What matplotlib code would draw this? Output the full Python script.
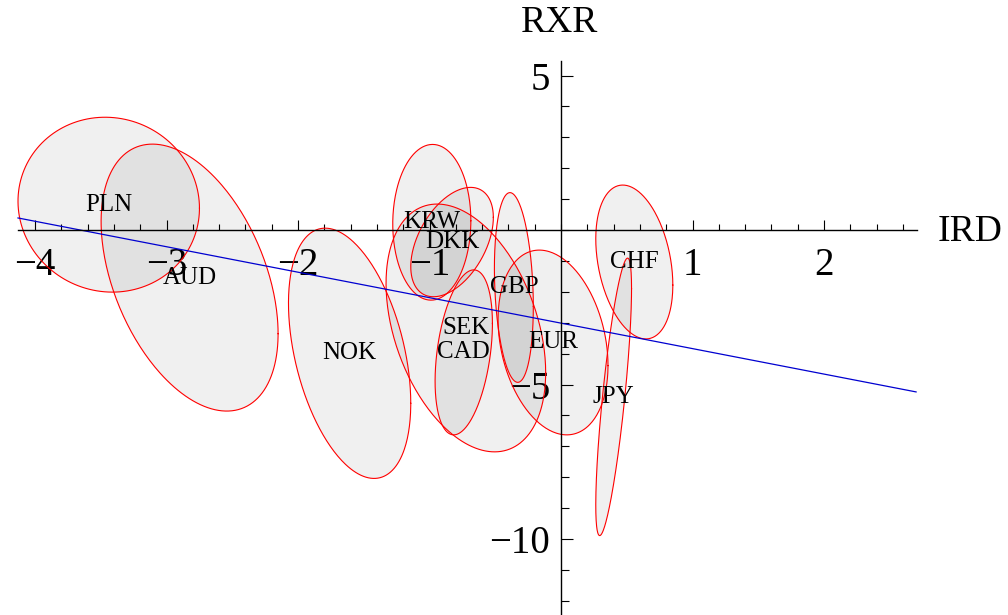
import numpy as np
import matplotlib.pyplot as plt
from matplotlib.ticker import MultipleLocator, FixedLocator

# currency ellipses: centre, half extent in x / y, and tilt (correlation)
names = ["PLN", "AUD", "NOK", "KRW", "DKK", "SEK", "CAD", "GBP", "EUR", "CHF", "JPY"]
cx = [-3.44, -2.825, -1.608, -0.983, -0.829, -0.724, -0.74, -0.359, -0.061, 0.557, 0.40]
cy = [0.82, -1.54, -3.99, 0.25, -0.39, -3.17, -3.96, -1.86, -3.64, -1.035, -5.40]
half_x = [0.69, 0.673, 0.465, 0.297, 0.314, 0.607, 0.218, 0.148, 0.418, 0.293, 0.136]
half_y = [2.83, 4.32, 4.05, 2.52, 1.77, 4.01, 2.67, 3.07, 2.99, 2.49, 4.49]
rho = [-0.04, -0.42, -0.40, 0.02, 0.45, -0.36, 0.35, -0.2, -0.25, -0.3, 0.78]

# fitted line endpoints
line_x = [-4.13, 2.70]
line_y = [0.39, -5.24]

x_major = [-4, -3, -2, -1, 1, 2]
y_major = [-10, -5, 5]

serif = "Liberation Serif"

fig = plt.figure(figsize=(10.08, 6.15), dpi=100)
ax = fig.add_axes([18 / 1008, 0.0, (917.4 - 18) / 1008, (615 - 61) / 615])
ax.set_xlim(-4.13, 2.71)
ax.set_ylim(-12.46, 5.47)

t = np.linspace(0, 2 * np.pi, 300)
for i, name in enumerate(names):
    ex = cx[i] + half_x[i] * np.cos(t)
    ey = cy[i] + half_y[i] * (rho[i] * np.cos(t) + np.sqrt(1 - rho[i] ** 2) * np.sin(t))
    ax.fill(ex, ey, facecolor="black", alpha=0.06, edgecolor="none", clip_on=False)
    ax.plot(ex, ey, color="#ff0000", lw=0.8, clip_on=False)

ax.plot(line_x, line_y, color="#0000d0", lw=0.9, clip_on=False)

for i, name in enumerate(names):
    ax.text(cx[i], cy[i], name, ha="center", va="center", fontsize=18,
            family=serif, zorder=5)

for s in ["top", "right"]:
    ax.spines[s].set_visible(False)
ax.spines["left"].set_position(("data", 0))
ax.spines["bottom"].set_position(("data", 0))
for s in ["left", "bottom"]:
    ax.spines[s].set_linewidth(1.0)

ax.xaxis.set_major_locator(FixedLocator(x_major))
ax.xaxis.set_minor_locator(MultipleLocator(0.2))
ax.yaxis.set_major_locator(FixedLocator(y_major))
ax.yaxis.set_minor_locator(MultipleLocator(1))
ax.tick_params(axis="x", which="major", direction="in", length=7.5, width=0.8,
               labelsize=28, pad=12)
ax.tick_params(axis="x", which="minor", direction="in", length=4.5, width=0.8)
ax.tick_params(axis="y", which="major", direction="in", length=8.5, width=0.8,
               labelsize=28, pad=8)
ax.tick_params(axis="y", which="minor", direction="in", length=5.5, width=0.8)
for lab in ax.get_xticklabels() + ax.get_yticklabels():
    lab.set_family(serif)

ax.patch.set_visible(False)
fig.text(970 / 1008, 1 - 232 / 615, "IRD", ha="center", va="center", fontsize=27, family=serif)
fig.text(560 / 1008, 1 - 23 / 615, "RXR", ha="center", va="center", fontsize=27, family=serif)

fig.savefig("out.png", dpi=100)
